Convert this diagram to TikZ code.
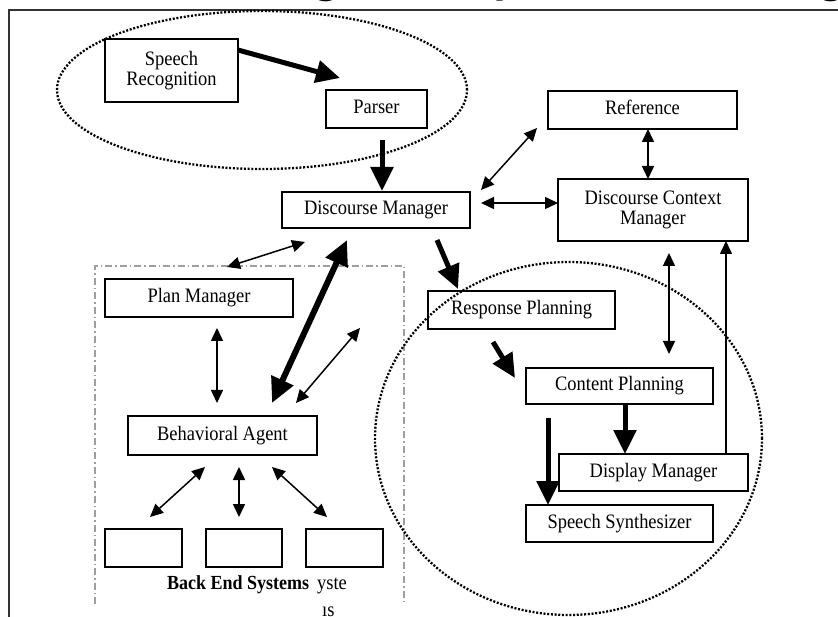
\documentclass[tikz,border=0pt]{standalone}
\usepackage{fontspec}
\setmainfont{Liberation Serif}[FakeStretch=0.9]
\newfontfamily\headfont{Carlito}
\usetikzlibrary{arrows.meta}

\begin{document}
\begin{tikzpicture}[x=1pt,y=-1pt,
  box/.style={draw=black, line width=1.7pt, inner sep=0pt, align=center,
    font=\fontsize{20.5}{20}\selectfont},
  oneline/.style={text height=14pt, text depth=4.5pt},
  lean/.style={line width=1.5pt, -{Triangle[length=13pt,width=12pt]}},
  leanboth/.style={line width=1.5pt,
    {Triangle[length=13pt,width=12pt]}-{Triangle[length=13pt,width=12pt]}},
  heavy/.style={line width=5pt, -{Triangle[length=24pt,width=22pt]}},
  heavyboth/.style={line width=6pt,
    {Triangle[length=25pt,width=23pt]}-{Triangle[length=25pt,width=23pt]}},
  dotring/.style={line width=2.3pt, dash pattern=on 2pt off 1.7pt},
  groupline/.style={draw=black!38, line width=1.3pt,
    dash pattern=on 7pt off 3pt on 1.5pt off 3pt},
  frameline/.style={draw=black!80, line width=2pt},
  heading/.style={inner sep=0pt, anchor=base,
    font=\headfont\bfseries\fontsize{55}{55}\selectfont},
  caption/.style={inner sep=0pt, anchor=base west,
    font=\fontsize{20.5}{20}\selectfont}
]
\useasboundingbox (0,0) rectangle (838,617);

% outer frame (top and left edges)
\draw[frameline] (9,617) -- (9,10.5) -- (838,10.5);

% heading letters, only their lower ends inside the strip above the frame
\begin{scope}
  \clip (0,0) rectangle (838,8.5);
  \node[heading] (h1) at (327,-7) {g};
  \node[heading] (h2) at (505,-7) {y};
  \node[heading] (h3) at (832,-7) {g};
\end{scope}

% back-end group frame (dash-dot, open at the bottom)
\draw[groupline] (95,604) -- (95,266) -- (404,266) -- (404,604);

% components
\node[box] (sr) at (171.5,70.5) [minimum width=133pt, minimum height=63pt] {Speech\\Recognition};
\node[box, oneline] (parser) at (376.5,109) [minimum width=101pt, minimum height=38pt] {Parser};
\node[box, oneline] (dm) at (376,210) [minimum width=188pt, minimum height=36pt] {Discourse Manager};
\node[box, oneline] (ref) at (642.5,110) [minimum width=189pt, minimum height=38pt] {Reference};
\node[box] (dcm) at (653,210) [minimum width=190pt, minimum height=62pt] {Discourse Context\\Manager};
\node[box, oneline] (pm) at (199,298) [minimum width=188pt, minimum height=38pt] {Plan Manager};
\node[box, oneline] (ba) at (222.5,435.5) [minimum width=189pt, minimum height=39pt] {Behavioral Agent};
\node[box] (be1) at (143.5,548) [minimum width=77pt, minimum height=38pt] {};
\node[box] (be2) at (244,548) [minimum width=76pt, minimum height=38pt] {};
\node[box] (be3) at (344.5,548) [minimum width=77pt, minimum height=38pt] {};
\node[box, oneline] (rp) at (521.5,310) [minimum width=187pt, minimum height=38pt] {Response Planning};
\node[box, oneline] (cp) at (619.5,386) [minimum width=187pt, minimum height=36pt] {Content Planning};
\node[box, oneline] (disp) at (653.5,472.5) [minimum width=189pt, minimum height=37pt] {Display Manager};
\node[box, oneline] (ss) at (619.5,523.5) [minimum width=187pt, minimum height=37pt] {Speech Synthesizer};

% group caption and its wrapped remainder
\node[caption, font=\bfseries\fontsize{20}{20}\selectfont] (becap) at (167,589) {Back End Systems};
\node[caption] (becap2) at (317,589) {yste};
\node[caption] (becap3) at (322,616) {ıs};

% connector end points
\coordinate (srOut) at (238,50);   \coordinate (parIn) at (340,78);
\coordinate (parOut) at (382,140); \coordinate (dmIn) at (382,191);
\coordinate (dmR1) at (481,190);   \coordinate (refL) at (537,128);
\coordinate (dmR2) at (481,203);   \coordinate (dcmL) at (558,203);
\coordinate (refB) at (648,129);   \coordinate (dcmT) at (648,179);
\coordinate (dmOut) at (437,240);  \coordinate (rpIn) at (458,289);
\coordinate (dmL) at (305,242);    \coordinate (grpT) at (227,267);
\coordinate (baT1) at (272,403);   \coordinate (dmB) at (347,240);
\coordinate (baT2) at (296,403);   \coordinate (grpR) at (360,328);
\coordinate (pmB) at (217,328);    \coordinate (baT3) at (217,403);
\coordinate (baB1) at (205,467);   \coordinate (be1T) at (150,517);
\coordinate (baB2) at (239,467);   \coordinate (be2T) at (239,517);
\coordinate (baB3) at (272,467);   \coordinate (be3T) at (327,517);
\coordinate (rpOut) at (493,342);  \coordinate (cpIn) at (515,378);
\coordinate (dcmB) at (669,253);   \coordinate (cpT) at (669,354);
\coordinate (dispT) at (726,454);  \coordinate (dcmB2) at (726,241);
\coordinate (cpB) at (625,404);    \coordinate (dispIn) at (625,454);
\coordinate (synSrc) at (548,418); \coordinate (ssIn) at (548,505);

% data flow
\draw[heavy] (srOut) -- (parIn);
\draw[heavy] (parOut) -- (dmIn);
\draw[leanboth] (dmR1) -- (refL);
\draw[leanboth] (dmR2) -- (dcmL);
\draw[leanboth] (refB) -- (dcmT);
\draw[heavy] (dmOut) -- (rpIn);
\draw[leanboth] (dmL) -- (grpT);
\draw[heavyboth] (baT1) -- (dmB);
\draw[leanboth] (baT2) -- (grpR);
\draw[leanboth] (pmB) -- (baT3);
\draw[leanboth] (baB1) -- (be1T);
\draw[leanboth] (baB2) -- (be2T);
\draw[leanboth] (baB3) -- (be3T);
\draw[heavy] (rpOut) -- (cpIn);
\draw[leanboth] (dcmB) -- (cpT);
\draw[lean] (dispT) -- (dcmB2);
\draw[heavy] (cpB) -- (dispIn);
\draw[heavy] (synSrc) -- (ssIn);

% dotted groupings
\draw[dotring] (262,90) ellipse [x radius=205pt, y radius=79pt];
\draw[dotring] (568.5,438.5) ellipse [x radius=193.5pt, y radius=176.5pt];
\end{tikzpicture}
\end{document}
